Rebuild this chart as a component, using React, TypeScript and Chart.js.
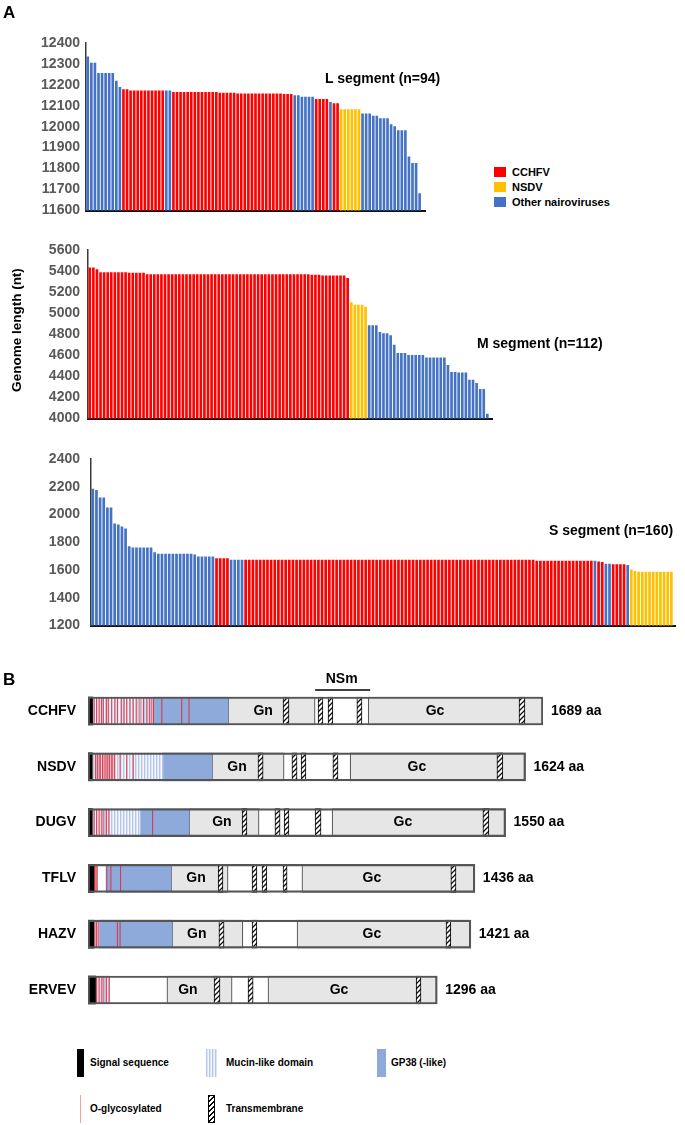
import React, { useEffect, useRef } from "react";
import { Chart, registerables } from "chart.js";

Chart.register(...registerables);

const FONT = '"Liberation Sans", Arial, Helvetica, sans-serif';

// ---------- Panel A data ----------
const GROUP_COLORS: Record<string, string> = { C: "#ff0000", N: "#ffc000", O: "#4472c4" };
const GROUP_LEGEND = [
  ["C", "CCHFV"],
  ["N", "NSDV"],
  ["O", "Other nairoviruses"],
];

const L_VALUES = [
  12334, 12305, 12305, 12256, 12256, 12256, 12256, 12256, 12219, 12189,
  12178, 12178, 12172, 12172, 12172, 12172, 12172, 12172, 12172, 12172,
  12172, 12172, 12172, 12172, 12165, 12165, 12165, 12165, 12165, 12165,
  12165, 12165, 12165, 12165, 12165, 12165, 12165, 12162, 12162, 12162,
  12162, 12162, 12158, 12158, 12158, 12158, 12158, 12158, 12158, 12158,
  12158, 12158, 12158, 12158, 12158, 12155, 12155, 12155, 12150, 12150,
  12143, 12143, 12143, 12143, 12132, 12132, 12132, 12132, 12118, 12112,
  12112, 12083, 12083, 12083, 12083, 12083, 12083, 12063, 12063, 12063,
  12052, 12052, 12040, 12040, 12040, 12011, 12002, 11983, 11983, 11983,
  11858, 11827, 11827, 11683,
];
const L_GROUPS = [
  "OOOOOOOOOO", "CCCCCCCCCC", "CCOOCCCCCC", "CCCCCCCCCC", "CCCCCCCCCC",
  "CCCCCCCCOO", "OOOOCCCCOC", "CNNNNNNOOO", "OOOOOOOOOO", "OOOO",
].join("").split("");
const L_TICKS = { min: 11600, max: 12400, step: 100 };

const M_VALUES = [
  5434, 5434, 5418, 5390, 5390, 5390, 5390, 5390, 5390, 5390,
  5390, 5385, 5385, 5385, 5385, 5385, 5371, 5371, 5371, 5371,
  5371, 5371, 5371, 5371, 5371, 5371, 5371, 5371, 5371, 5371,
  5371, 5371, 5371, 5371, 5371, 5371, 5371, 5371, 5371, 5371,
  5371, 5371, 5371, 5371, 5371, 5371, 5371, 5371, 5371, 5371,
  5371, 5371, 5371, 5371, 5371, 5371, 5371, 5371, 5371, 5371,
  5371, 5371, 5365, 5365, 5365, 5359, 5359, 5359, 5359, 5359,
  5359, 5359, 5334, 5105, 5080, 5080, 5080, 5061, 4885, 4885,
  4885, 4822, 4810, 4810, 4791, 4700, 4622, 4622, 4622, 4603,
  4603, 4603, 4603, 4603, 4581, 4581, 4581, 4581, 4581, 4581,
  4509, 4443, 4443, 4437, 4437, 4437, 4368, 4368, 4337, 4280,
  4280, 4045,
];
const M_GROUPS = [
  "CCCCCCCCCC", "CCCCCCCCCC", "CCCCCCCCCC", "CCCCCCCCCC", "CCCCCCCCCC",
  "CCCCCCCCCC", "CCCCCCCCCC", "CCCNNNNNOO", "OOOOOOOOOO", "OOOOOOOOOO",
  "OOOOOOOOOO", "OO",
].join("").split("");
const M_TICKS = { min: 4000, max: 5600, step: 200 };

const S_VALUES = [
  2186, 2177, 2123, 2123, 2050, 2050, 1935, 1928, 1914, 1900,
  1771, 1762, 1762, 1762, 1762, 1762, 1762, 1729, 1717, 1717,
  1717, 1717, 1717, 1717, 1717, 1717, 1717, 1717, 1712, 1698,
  1698, 1698, 1698, 1698, 1686, 1686, 1686, 1686, 1675, 1675,
  1675, 1675, 1674, 1674, 1674, 1674, 1674, 1674, 1674, 1674,
  1674, 1674, 1674, 1674, 1674, 1674, 1674, 1674, 1674, 1674,
  1674, 1674, 1674, 1674, 1674, 1674, 1674, 1674, 1674, 1674,
  1674, 1674, 1674, 1674, 1674, 1674, 1674, 1674, 1674, 1674,
  1674, 1674, 1674, 1674, 1674, 1674, 1674, 1674, 1674, 1674,
  1674, 1674, 1674, 1674, 1674, 1674, 1674, 1674, 1674, 1674,
  1674, 1674, 1674, 1674, 1674, 1674, 1674, 1674, 1674, 1674,
  1674, 1674, 1674, 1674, 1674, 1674, 1674, 1674, 1674, 1674,
  1674, 1674, 1667, 1667, 1667, 1667, 1667, 1667, 1667, 1667,
  1667, 1667, 1667, 1667, 1667, 1667, 1667, 1667, 1668, 1662,
  1659, 1645, 1645, 1641, 1641, 1641, 1641, 1636, 1602, 1594,
  1588, 1588, 1588, 1588, 1588, 1588, 1588, 1588, 1588, 1588,
];
const S_GROUPS = [
  "OOOOOOOOOO", "OOOOOOOOOO", "OOOOOOOOOO", "OOOOCCCCOO", "OOCCCCCCCC",
  "CCCCCCCCCC", "CCCCCCCCCC", "CCCCCCCCCC", "CCCCCCCCCC", "CCCCCCCCCC",
  "CCCCCCCCCC", "CCCCCCCCCC", "CCCCCCCCCC", "CCCCCCCCOC", "COOCCCCONN",
  "NNNNNNNNNN",
].join("").split("");
const S_TICKS = { min: 1200, max: 2400, step: 200 };

// ---------- Panel B data (amino-acid positions) ----------
const PROTEINS = ["CCHFV", "NSDV", "DUGV", "TFLV", "HAZV", "ERVEV"];
const LENGTH_AA = [1689, 1624, 1550, 1436, 1421, 1296];
const SIGNAL_END = [17, 16, 16, 22, 22, 28];
const MUCIN = [[17, 243], [16, 278], [16, 193], [22, 36], [22, 41], [28, 80]];
const GP38 = [[243, 520], [278, 460], [193, 375], [67, 308], [41, 312], null];
const GN = [[520, 843], [460, 728], [375, 635], [308, 520], [312, 575], [293, 535]];
const GC_START = [1040, 973, 906, 794, 776, 668];
const TM = [
  [[724, 746], [854, 872], [891, 909], [998, 1017], [1600, 1622]],
  [[631, 650], [757, 776], [791, 809], [909, 928], [1518, 1540]],
  [[572, 590], [694, 713], [728, 746], [843, 865], [1466, 1488]],
  [[483, 501], [609, 627], [646, 664], [724, 739], [1347, 1366]],
  [[486, 505], [609, 627], [1329, 1347]],
  [[468, 490], [594, 613], [1218, 1236]],
];
const O_GLYC = [
  [23, 32, 41, 50, 57, 69, 75, 88, 100, 109, 125, 134, 144, 156, 168, 181, 193, 206, 218, 228, 237, 243, 274, 348, 375],
  [28, 35, 41, 47, 54, 60, 67, 73, 80, 86, 92, 99, 119, 144, 168],
  [23, 32, 41, 51, 59, 69, 78, 240],
  [24, 29, 34, 70, 85, 121],
  [26, 32, 38, 109, 119],
  [32, 41, 51, 59, 69, 79],
];
const GN_LABEL_AA = [650, 553, 497, 401, 404, 371];
const GC_LABEL_AA = [1288, 1221, 1169, 1054, 1054, 932];

// ---------- helpers ----------
type Box = { left: number; top: number; width: number; height: number };

function ChartCanvas({ box, make }: { box: Box; make: (c: HTMLCanvasElement) => any }) {
  const ref = useRef<HTMLCanvasElement>(null);
  useEffect(() => {
    const chart = new Chart(ref.current as HTMLCanvasElement, make(ref.current as HTMLCanvasElement));
    return () => chart.destroy();
  }, []);
  return (
    <canvas
      ref={ref}
      width={box.width}
      height={box.height}
      style={{ position: "absolute", left: box.left, top: box.top, width: box.width, height: box.height }}
    />
  );
}

type Plot = { left: number; top: number; right: number; bottom: number; tickPad: number; xPad: number };

function segmentConfig(values: number[], groups: string[], ticks: any, box: Box, plot: Plot) {
  return {
    type: "bar",
    data: {
      datasets: [
        {
          data: values.map((v, i) => ({ x: i, y: v })),
          backgroundColor: groups.map((g) => GROUP_COLORS[g]),
          borderWidth: 0,
          barPercentage: 0.74,
          categoryPercentage: 1,
        },
      ],
    },
    options: {
      animation: false,
      responsive: false,
      maintainAspectRatio: false,
      events: [],
      layout: {
        padding: { left: 0, top: plot.top, right: box.width - plot.right, bottom: box.height - plot.bottom },
      },
      plugins: { legend: { display: false }, tooltip: { enabled: false } },
      scales: {
        x: {
          type: "linear",
          offset: false,
          min: -0.5,
          max: values.length - 0.5 + plot.xPad,
          ticks: { display: false },
          grid: { display: false, drawTicks: false, offset: false },
          border: { display: true, color: "#111", width: 2 },
          afterFit: (s: any) => {
            s.height = 0;
          },
        },
        y: {
          min: ticks.min,
          max: ticks.max,
          ticks: {
            stepSize: ticks.step,
            padding: plot.tickPad,
            color: "#595959",
            font: { family: FONT, size: 14, weight: "bold" },
            callback: (v: any) => String(v),
          },
          grid: { display: false, drawTicks: false },
          border: { display: true, color: "#3a3a3a", width: 1.5 },
          afterFit: (s: any) => {
            s.width = plot.left;
          },
        },
      },
    },
  };
}

function makeHatch(ctx: CanvasRenderingContext2D) {
  const c = document.createElement("canvas");
  c.width = 5;
  c.height = 5;
  const g = c.getContext("2d") as CanvasRenderingContext2D;
  g.fillStyle = "#ffffff";
  g.fillRect(0, 0, 5, 5);
  g.strokeStyle = "#111111";
  g.lineWidth = 1.3;
  g.beginPath();
  g.moveTo(0, 5);
  g.lineTo(5, 0);
  g.moveTo(-1, 1);
  g.lineTo(1, -1);
  g.moveTo(4, 6);
  g.lineTo(6, 4);
  g.stroke();
  return ctx.createPattern(c, "repeat");
}

function makeMucin(ctx: CanvasRenderingContext2D) {
  const c = document.createElement("canvas");
  c.width = 3;
  c.height = 2;
  const g = c.getContext("2d") as CanvasRenderingContext2D;
  const cols = ["#b4c6ea", "#dde5f5", "#f3f6fc"];
  cols.forEach((col, i) => {
    g.fillStyle = col;
    g.fillRect(i, 0, 1, 2);
  });
  return ctx.createPattern(c, "repeat");
}

const domainLabels = {
  id: "domainLabels",
  afterDatasetsDraw(chart: any) {
    const { ctx, scales } = chart;
    const x = scales.x;
    const y = scales.y;
    ctx.save();
    ctx.font = `bold 14px ${FONT}`;
    ctx.fillStyle = "#000";
    ctx.textBaseline = "middle";
    PROTEINS.forEach((_, i) => {
      const yc = y.getPixelForValue(i);
      ctx.textAlign = "center";
      ctx.fillText("Gn", x.getPixelForValue(GN_LABEL_AA[i]), yc);
      ctx.fillText("Gc", x.getPixelForValue(GC_LABEL_AA[i]), yc);
      ctx.textAlign = "left";
      ctx.fillText(`${LENGTH_AA[i]} aa`, x.getPixelForValue(LENGTH_AA[i]) + 8, yc);
    });
    const top0 = y.getPixelForValue(0) - 14;
    const xs = x.getPixelForValue(GN[0][1]);
    const xe = x.getPixelForValue(GC_START[0]);
    ctx.strokeStyle = "#000";
    ctx.lineWidth = 1.5;
    ctx.beginPath();
    ctx.moveTo(xs, top0 - 7);
    ctx.lineTo(xe + 2, top0 - 7);
    ctx.stroke();
    ctx.textAlign = "center";
    ctx.fillText("NSm", (xs + xe) / 2, top0 - 18);
    ctx.restore();
  },
};

function domainConfig(canvas: HTMLCanvasElement, box: Box) {
  const ctx = canvas.getContext("2d") as CanvasRenderingContext2D;
  const hatch = makeHatch(ctx);
  const mucin = makeMucin(ctx);
  const maxTm = Math.max(...TM.map((r) => r.length));
  const tmSets = [];
  for (let k = 0; k < maxTm; k++) {
    tmSets.push({
      label: `TM${k + 1}`,
      data: TM.map((r) => (r[k] ? r[k] : null)),
      backgroundColor: hatch,
      borderColor: "#000",
      borderWidth: 1,
      order: 4,
    });
  }
  const plot = { left: 88, top: 23.1, right: 543, bottom: 357.9 };
  return {
    type: "bar",
    data: {
      labels: PROTEINS,
      datasets: [
        { label: "base", data: LENGTH_AA.map((l) => [0, l]), backgroundColor: "#ffffff", borderWidth: 0, order: 10 },
        { label: "Gn", data: GN, backgroundColor: "#e7e6e6", borderColor: "#595959", borderWidth: 1.2, order: 9 },
        {
          label: "Gc",
          data: GC_START.map((s, i) => [s, LENGTH_AA[i]]),
          backgroundColor: "#e7e6e6",
          borderColor: "#595959",
          borderWidth: 1.2,
          order: 9,
        },
        { label: "GP38", data: GP38, backgroundColor: "#8eaadb", borderWidth: 0, order: 8 },
        { label: "Mucin", data: MUCIN, backgroundColor: mucin, borderWidth: 0, order: 7 },
        {
          type: "scatter",
          label: "O-glyc",
          data: O_GLYC.flatMap((arr, i) => arr.map((v) => ({ x: v, y: PROTEINS[i] }))),
          pointStyle: "line",
          pointRotation: 90,
          pointRadius: 13,
          pointHoverRadius: 13,
          pointBorderWidth: 1,
          pointBorderColor: "rgba(232,28,40,0.85)",
          borderColor: "rgba(232,28,40,0.85)",
          showLine: false,
          order: 6,
        },
        { label: "Signal", data: SIGNAL_END.map((e) => [0, e]), backgroundColor: "#000000", borderWidth: 0, order: 5 },
        ...tmSets,
        {
          label: "outline",
          data: LENGTH_AA.map((l) => [0, l]),
          backgroundColor: "rgba(0,0,0,0)",
          borderColor: "#555555",
          borderWidth: 1.5,
          order: 1,
        },
      ],
    },
    options: {
      indexAxis: "y",
      animation: false,
      responsive: false,
      maintainAspectRatio: false,
      events: [],
      datasets: { bar: { grouped: false, barThickness: 28, borderSkipped: false } },
      layout: {
        padding: { left: 0, top: plot.top, right: box.width - plot.right, bottom: box.height - plot.bottom },
      },
      plugins: { legend: { display: false }, tooltip: { enabled: false } },
      scales: {
        x: { type: "linear", min: 0, max: LENGTH_AA[0], display: false },
        y: {
          type: "category",
          offset: true,
          grid: { display: false, drawTicks: false },
          border: { display: false },
          ticks: { color: "#000", padding: 12, font: { family: FONT, size: 14, weight: "bold" } },
          afterFit: (s: any) => {
            s.width = plot.left;
          },
        },
      },
    },
    plugins: [domainLabels],
  };
}

function Text({ x, y, children, size = 14, style = {} }: any) {
  return (
    <div
      style={{
        position: "absolute",
        left: x,
        top: y,
        transform: "translateY(-50%)",
        fontFamily: FONT,
        fontWeight: "bold",
        fontSize: size,
        lineHeight: 1,
        whiteSpace: "nowrap",
        color: "#000",
        ...style,
      }}
    >
      {children}
    </div>
  );
}

const L_BOX = { left: 0, top: 0, width: 460, height: 225 };
const M_BOX = { left: 0, top: 225, width: 510, height: 210 };
const S_BOX = { left: 0, top: 435, width: 685, height: 210 };
const B_BOX = { left: 0, top: 660, width: 685, height: 380 };

export default function App() {
  return (
    <div style={{ position: "absolute", left: 0, top: 0, width: 685, height: 1125, background: "#fff", overflow: "hidden" }}>
      <ChartCanvas
        box={L_BOX}
        make={() =>
          segmentConfig(L_VALUES, L_GROUPS, L_TICKS, L_BOX, { left: 86, top: 42.7, right: 425, bottom: 212, tickPad: 6, xPad: 1.0 })
        }
      />
      <ChartCanvas
        box={M_BOX}
        make={() =>
          segmentConfig(M_VALUES, M_GROUPS, M_TICKS, M_BOX, { left: 88, top: 25, right: 492, bottom: 195, tickPad: 8, xPad: 0.8 })
        }
      />
      <ChartCanvas
        box={S_BOX}
        make={() =>
          segmentConfig(S_VALUES, S_GROUPS, S_TICKS, S_BOX, { left: 91, top: 24, right: 675, bottom: 194.3, tickPad: 11, xPad: 0.5 })
        }
      />
      <ChartCanvas box={B_BOX} make={(c) => domainConfig(c, B_BOX)} />

      <Text x={3} y={12} size={17}>A</Text>
      <Text x={3} y={679} size={17}>B</Text>
      <Text x={325} y={78}>L segment (n=94)</Text>
      <Text x={477} y={343}>M segment (n=112)</Text>
      <Text x={549} y={530}>S segment (n=160)</Text>
      <div
        style={{
          position: "absolute",
          left: 17,
          top: 330,
          transform: "translate(-50%, -50%) rotate(-90deg)",
          fontFamily: FONT,
          fontWeight: "bold",
          fontSize: 13.5,
          lineHeight: 1,
          whiteSpace: "nowrap",
        }}
      >
        Genome length (nt)
      </div>

      {GROUP_LEGEND.map(([g, name], i) => (
        <React.Fragment key={g}>
          <div
            style={{
              position: "absolute",
              left: 494,
              top: 167 + i * 15,
              width: 12,
              height: 10,
              background: GROUP_COLORS[g],
            }}
          />
          <Text x={512} y={172 + i * 15} size={11}>
            {name}
          </Text>
        </React.Fragment>
      ))}

      {/* Panel B legend */}
      <div style={{ position: "absolute", left: 77, top: 1049, width: 7, height: 28, background: "#000" }} />
      <Text x={90} y={1063} size={10}>Signal sequence</Text>
      <div
        style={{
          position: "absolute",
          left: 206,
          top: 1049,
          width: 11,
          height: 28,
          background: "repeating-linear-gradient(90deg, #b4c6ea 0 1px, #dde5f5 1px 2px, #f3f6fc 2px 3px)",
        }}
      />
      <Text x={226} y={1063} size={10}>Mucin-like domain</Text>
      <div style={{ position: "absolute", left: 377, top: 1049, width: 9, height: 28, background: "#8eaadb" }} />
      <Text x={391} y={1063} size={10}>GP38 (-like)</Text>
      <div style={{ position: "absolute", left: 80, top: 1095, width: 1, height: 28, background: "#f2a0a0" }} />
      <Text x={90} y={1109} size={10}>O-glycosylated</Text>
      <div
        style={{
          position: "absolute",
          left: 208,
          top: 1095,
          width: 5,
          height: 26,
          border: "1px solid #000",
          background: "repeating-linear-gradient(135deg, #000 0 1px, #fff 1px 3.5px)",
        }}
      />
      <Text x={226} y={1109} size={10}>Transmembrane</Text>
    </div>
  );
}
